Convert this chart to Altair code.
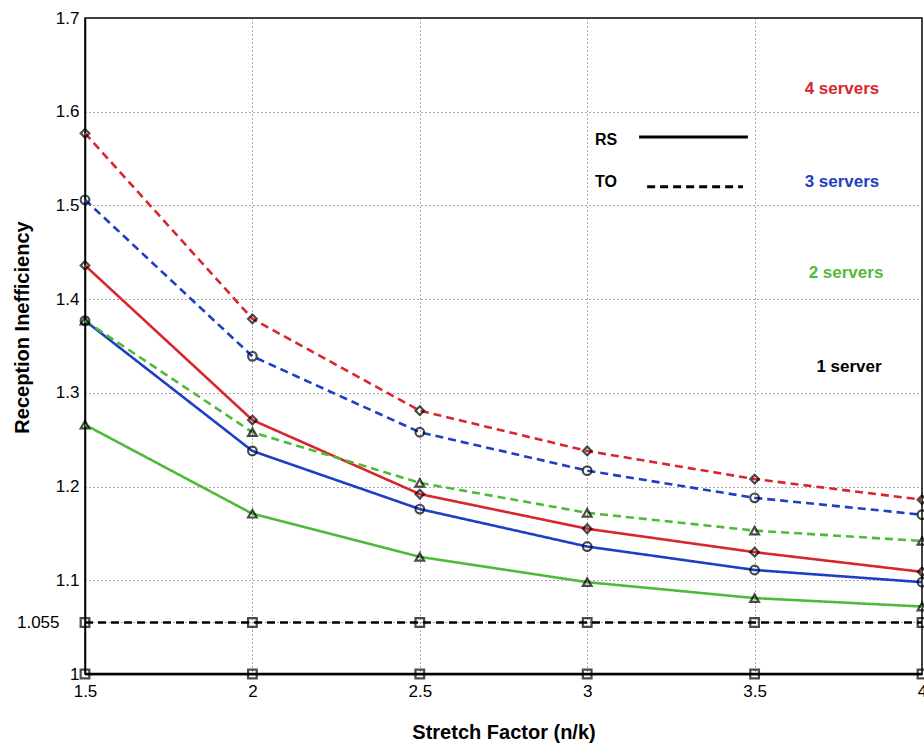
import altair as alt
import pandas as pd

# ---- data ----
stretch = [1.5, 2.0, 2.5, 3.0, 3.5, 4.0]

rs_4 = [1.436, 1.271, 1.192, 1.155, 1.130, 1.109]
rs_3 = [1.377, 1.238, 1.176, 1.136, 1.111, 1.098]
rs_2 = [1.266, 1.171, 1.125, 1.098, 1.081, 1.072]
rs_1 = [1.000, 1.000, 1.000, 1.000, 1.000, 1.000]

to_4 = [1.577, 1.379, 1.281, 1.238, 1.208, 1.186]
to_3 = [1.506, 1.339, 1.258, 1.217, 1.188, 1.170]
to_2 = [1.377, 1.258, 1.204, 1.172, 1.153, 1.142]
to_1 = [1.055, 1.055, 1.055, 1.055, 1.055, 1.055]

server_names = ["4 servers", "3 servers", "2 servers", "1 server"]
server_colors = ["#d8262c", "#1d3fc4", "#4fba3a", "#000000"]
server_shapes = ["diamond", "circle", "triangle-up", "square"]

y_ticks = [1.0, 1.055, 1.1, 1.2, 1.3, 1.4, 1.5, 1.6, 1.7]
x_ticks = [1.5, 2.0, 2.5, 3.0, 3.5, 4.0]

rows = []
for scheme, series in [("RS", [rs_4, rs_3, rs_2, rs_1]), ("TO", [to_4, to_3, to_2, to_1])]:
    for name, vals in zip(server_names, series):
        for xv, yv in zip(stretch, vals):
            rows.append({"x": xv, "y": yv, "servers": name, "scheme": scheme,
                         "key": scheme + " " + name})
df = pd.DataFrame(rows)

# annotation labels (data coordinates)
ann_text = server_names
ann_x = [3.761, 3.761, 3.773, 3.782]
ann_y = [1.624, 1.525, 1.428, 1.328]
ann = pd.DataFrame({"label": ann_text, "x": ann_x, "y": ann_y, "servers": server_names})

leg_text = ["RS", "TO"]
leg_tx = [3.023, 3.023]
leg_ty = [1.570, 1.525]
leg_y = [1.573, 1.520]
leg_x1 = [3.155, 3.179]
leg_x2 = [3.480, 3.465]
leg = pd.DataFrame({"label": leg_text, "tx": leg_tx, "ty": leg_ty, "y": leg_y,
                    "x1": leg_x1, "x2": leg_x2, "scheme": leg_text})

xscale = alt.Scale(domain=[1.5, 4.0], nice=False, zero=False)
yscale = alt.Scale(domain=[1.0, 1.7], nice=False, zero=False)
color_scale = alt.Scale(domain=server_names, range=server_colors)
dash_scale = alt.Scale(domain=["RS", "TO"], range=[[1, 0], [8, 5]])
shape_scale = alt.Scale(domain=server_names, range=server_shapes)

x_enc = alt.X("x:Q", scale=xscale,
              axis=alt.Axis(values=x_ticks, labelExpr="'' + datum.value", title="Stretch Factor (n/k)",
                            labelFlush=False, labelOverlap=False, grid=True,
                            gridDash=[1, 3], gridColor="#555555", gridWidth=1,
                            ticks=False, labelPadding=9,
                            titleY=58, titleBaseline="middle"))
y_enc = alt.Y("y:Q", scale=yscale,
              axis=alt.Axis(values=y_ticks, labelExpr="'' + datum.value", title="Reception Inefficiency",
                            labelFlush=False, labelOverlap=False, grid=True,
                            gridDash=[1, 3], gridColor="#555555", gridWidth=1,
                            ticks=False,
                            labelPadding={"condition": {"test": "datum.value == 1.055", "value": 26},
                                          "value": 6},
                            titleX=-63, titleY=309, titleBaseline="middle", titleAngle=270))

base = alt.Chart(df)

lines = base.mark_line(strokeWidth=2.6).encode(
    x=x_enc, y=y_enc,
    color=alt.Color("servers:N", scale=color_scale, legend=None),
    strokeDash=alt.StrokeDash("scheme:N", scale=dash_scale, legend=None),
    detail="key:N",
)

points = base.mark_point(filled=False, size=75, strokeWidth=2.2, color="black").encode(
    x="x:Q", y="y:Q",
    shape=alt.Shape("servers:N", scale=shape_scale, legend=None),
)

ann_layer = alt.Chart(ann).mark_text(fontSize=17, fontWeight="bold", font="Liberation Sans",
                                      align="center", baseline="middle").encode(
    x="x:Q", y="y:Q", text="label:N",
    color=alt.Color("servers:N", scale=color_scale, legend=None),
)

leg_text_layer = alt.Chart(leg).mark_text(fontSize=16, fontWeight="bold", font="Liberation Sans",
                                           align="left", baseline="middle", color="black").encode(
    x="tx:Q", y="ty:Q", text="label:N",
)
leg_rules = alt.Chart(leg).mark_rule(strokeWidth=3, color="black").encode(
    x="x1:Q", x2="x2:Q", y="y:Q",
    strokeDash=alt.StrokeDash("scheme:N", scale=dash_scale, legend=None),
)

chart = alt.layer(lines, points, ann_layer, leg_rules, leg_text_layer).properties(
    width=837, height=656,
    background="white",
    autosize=alt.AutoSizeParams(type="none"),
    padding={"left": 85, "top": 18, "right": 2, "bottom": 72},
).configure_view(stroke="black", strokeWidth=1.5).configure_axis(
    domainColor="black", domainWidth=1.5,
    labelFont="Liberation Sans", labelFontSize=17, labelColor="black",
    titleFont="Liberation Sans", titleFontSize=20, titleFontWeight="bold", titleColor="black",
)

chart.save("out.html", embed_options={"renderer": "svg", "actions": False})
